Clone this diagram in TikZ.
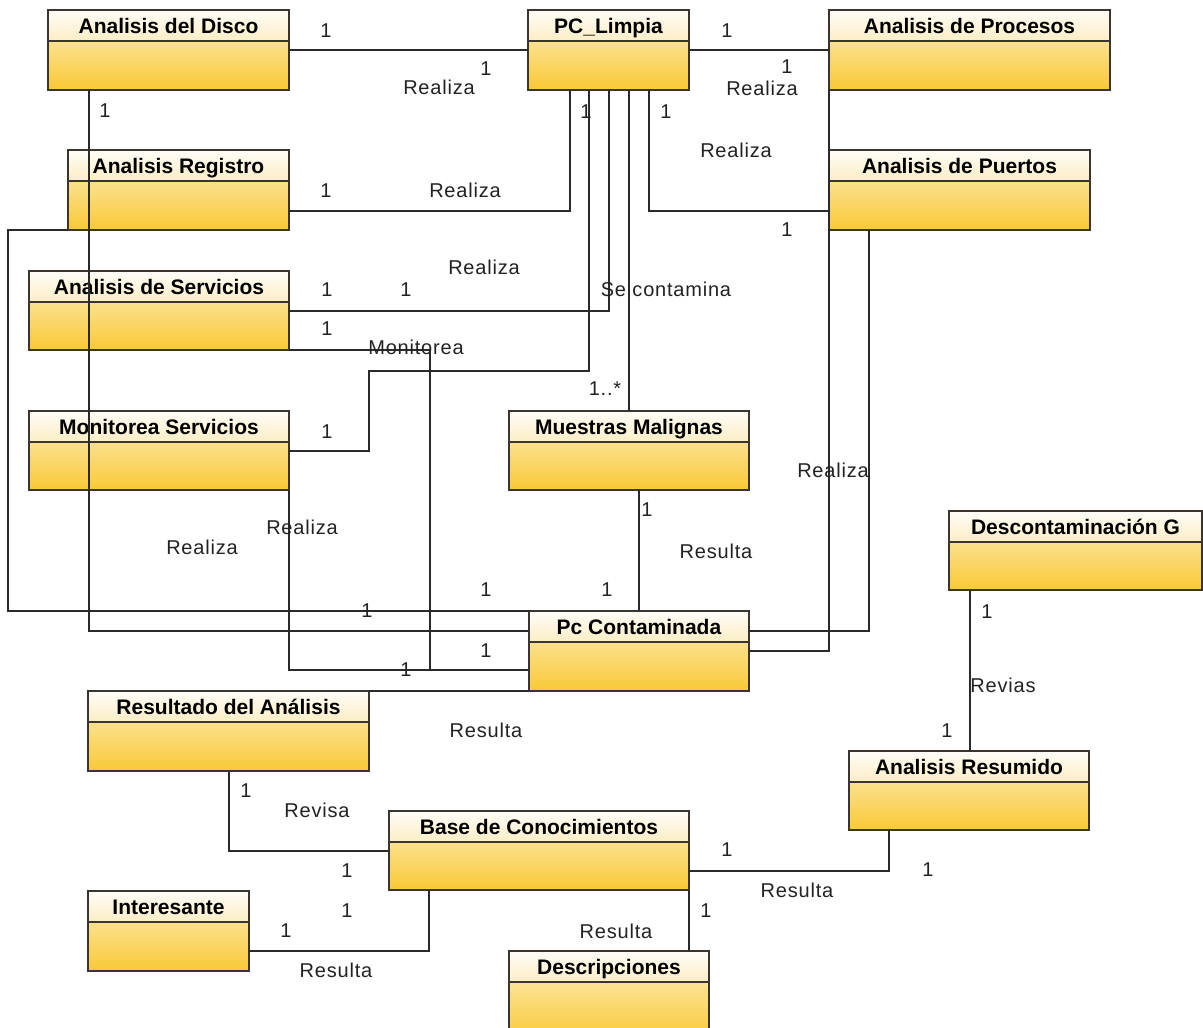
\documentclass[tikz,border=0pt]{standalone}
\usepackage{fontspec}
\setmainfont{Liberation Sans}
\definecolor{boxline}{HTML}{3A3530}
\definecolor{wire}{HTML}{2A2A2A}
\definecolor{hdtop}{HTML}{FFFDF7}
\definecolor{hdbot}{HTML}{FCEDC4}
\definecolor{bodytop}{HTML}{FDF0C6}
\definecolor{bodybot}{HTML}{F9C935}
\definecolor{labelcol}{HTML}{222222}
\begin{document}
\begin{tikzpicture}[x=1pt,y=-1pt,
  hdtext/.style={font=\fontsize{21}{24}\selectfont\bfseries, anchor=center, yshift=-15.5pt,
    inner sep=0pt, text height=15pt, text depth=0pt, text=black},
  cls/.style={rectangle, draw=boxline, line width=1.5pt, inner sep=0pt, outer sep=0pt, anchor=north west,
    path picture={
      \shade[top color=bodytop, bottom color=bodybot]
        ([yshift=-31pt]path picture bounding box.north west) rectangle (path picture bounding box.south east);
      \shade[top color=hdtop, bottom color=hdbot]
        (path picture bounding box.north west) rectangle ([yshift=-31pt]path picture bounding box.north east);
      \draw[boxline, line width=1.5pt]
        ([yshift=-31pt]path picture bounding box.north west) -- ([yshift=-31pt]path picture bounding box.north east);
    },
    label={[hdtext]north:#1}},
  conn/.style={draw=wire, line width=1.8pt},
  lbl/.style={font=\fontsize{20}{24}\selectfont\addfontfeature{LetterSpace=4}, text=labelcol, inner sep=0pt, anchor=center}
]
\useasboundingbox (0,0) rectangle (1203,1028);
\fill[white] (0,0) rectangle (1203,1028);
\clip (0,0) rectangle (1203,1028);

% ---- classes ----
\node[cls={Analisis del Disco}, minimum width=241pt, minimum height=80pt] (disco) at (48,10) {};
\node[cls={PC\_Limpia}, minimum width=161pt, minimum height=80pt] (limpia) at (528,10) {};
\node[cls={Analisis de Procesos}, minimum width=281pt, minimum height=80pt] (procesos) at (829,10) {};
\node[cls={Analisis Registro}, minimum width=221pt, minimum height=80pt] (registro) at (68,150) {};
\node[cls={Analisis de Puertos}, minimum width=261pt, minimum height=80pt] (puertos) at (829,150) {};
\node[cls={Analisis de Servicios}, minimum width=260pt, minimum height=79pt] (servicios) at (29,271) {};
\node[cls={Monitorea Servicios}, minimum width=260pt, minimum height=79pt] (monserv) at (29,411) {};
\node[cls={Muestras Malignas}, minimum width=240pt, minimum height=79pt] (muestras) at (509,411) {};
\node[cls={Pc Contaminada}, minimum width=220pt, minimum height=80pt] (contam) at (529,611) {};
\node[cls={Descontaminación G}, minimum width=253pt, minimum height=79pt] (descont) at (949,511) {};
\node[cls={Resultado del Análisis}, minimum width=281pt, minimum height=80pt] (resultado) at (88,691) {};
\node[cls={Analisis Resumido}, minimum width=240pt, minimum height=79pt] (resumido) at (849,751) {};
\node[cls={Base de Conocimientos}, minimum width=300pt, minimum height=79pt] (base) at (389,811) {};
\node[cls={Interesante}, minimum width=161pt, minimum height=80pt] (interes) at (88,891) {};
\node[cls={Descripciones}, minimum width=200pt, minimum height=90pt] (descr) at (509,951) {};

% ---- associations ----
\draw[conn] (disco.east) -- (limpia.west);
\draw[conn] (limpia.east) -- (procesos.west);
\draw[conn] ([yshift=-21pt]registro.east) -| ([xshift=42pt]limpia.south west);
\draw[conn] ([xshift=-40pt]limpia.south east) |- ([yshift=-21pt]puertos.west);
\draw[conn] (procesos.south west) |- (contam.east);
\draw[conn] ([yshift=-0.5pt]servicios.east) -| ([xshift=0.5pt]limpia.south);
\draw[conn] (servicios.south east) -| ([xshift=-99pt,yshift=-19pt]contam.west) -- ([yshift=-19pt]contam.west);
\draw[conn] (monserv.south east) |- ([yshift=-19pt]contam.west);
\draw[conn] ([yshift=-0.5pt]monserv.east) -| (369,371) -| ([xshift=61pt]limpia.south west);
\draw[conn] ([xshift=101pt]limpia.south west) -- ([xshift=101pt]limpia.south west |- muestras.north);
\draw[conn] ([xshift=10pt]muestras.south) -- ([xshift=10pt]muestras.south |- contam.north);
\draw[conn] (registro.south west) -- (8,230) |- (contam.north west);
\draw[conn] ([xshift=41pt]disco.south west) |- ([yshift=20pt]contam.west);
\draw[conn] ([xshift=40pt]puertos.south west) |- ([yshift=20pt]contam.east);
\draw[conn] (resultado.north east) -- (contam.south west);
\draw[conn] ([xshift=141pt]resultado.south west) |- ([yshift=-0.5pt]base.west);
\draw[conn] ([yshift=-20pt]interes.east) -| ([xshift=40pt]base.south west);
\draw[conn] (base.south east) -- (base.south east |- descr.north);
\draw[conn] ([yshift=-20.5pt]base.east) -| ([xshift=40pt]resumido.south west);
\draw[conn] ([xshift=21pt]descont.south west) -- ([xshift=21pt]descont.south west |- resumido.north);

% ---- role names and multiplicities ----
\node[lbl] (m1) at (326,31) {1};
\node[lbl] (r1) at (439,87) {Realiza};
\node[lbl] (m2) at (486,69) {1};
\node[lbl] (m3) at (727,31) {1};
\node[lbl] (m4) at (787,67) {1};
\node[lbl] (r2) at (762,88) {Realiza};
\node[lbl] (m5) at (326,191) {1};
\node[lbl] (r3) at (465,190) {Realiza};
\node[lbl] (m6) at (586,112) {1};
\node[lbl] (m7) at (666,112) {1};
\node[lbl] (r4) at (736,150) {Realiza};
\node[lbl] (m8) at (787,230) {1};
\node[lbl] (m9) at (105,111) {1};
\node[lbl] (m10) at (327,290) {1};
\node[lbl] (m11) at (406,290) {1};
\node[lbl] (r5) at (484,267) {Realiza};
\node[lbl] (m12) at (327,329) {1};
\node[lbl] (mo) at (416,347) {Monitorea};
\node[lbl] (m13) at (327,432) {1};
\node[lbl] (sc) at (666,289) {Se contamina};
\node[lbl] (m14) at (605,389) {1..*};
\node[lbl] (m15) at (647,510) {1};
\node[lbl] (rs1) at (716,551) {Resulta};
\node[lbl] (m16) at (607,590) {1};
\node[lbl] (r6) at (202,547) {Realiza};
\node[lbl] (m17) at (367,611) {1};
\node[lbl] (m18) at (486,590) {1};
\node[lbl] (r7) at (302,527) {Realiza};
\node[lbl] (m19) at (406,670) {1};
\node[lbl] (m20) at (486,651) {1};
\node[lbl] (r8) at (833,470) {Realiza};
\node[lbl] (rs2) at (486,730) {Resulta};
\node[lbl] (m21) at (246,791) {1};
\node[lbl] (rv) at (317,810) {Revisa};
\node[lbl] (m22) at (347,871) {1};
\node[lbl] (m23) at (347,911) {1};
\node[lbl] (m24) at (286,931) {1};
\node[lbl] (rs3) at (336,970) {Resulta};
\node[lbl] (m25) at (706,911) {1};
\node[lbl] (rs4) at (616,931) {Resulta};
\node[lbl] (m26) at (727,850) {1};
\node[lbl] (rs5) at (797,890) {Resulta};
\node[lbl] (m27) at (928,870) {1};
\node[lbl] (m28) at (987,612) {1};
\node[lbl] (rvs) at (1003,685) {Revias};
\node[lbl] (m29) at (947,731) {1};
\end{tikzpicture}
\end{document}
